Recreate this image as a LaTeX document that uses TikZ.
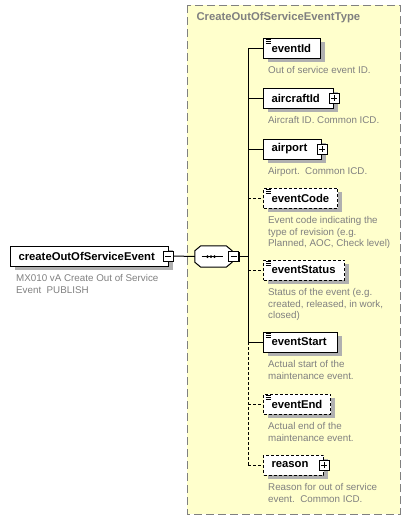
\documentclass[tikz,border=0pt]{standalone}
\usepackage{fontspec}
\setmainfont{Liberation Sans}
\usetikzlibrary{positioning,shadows}

\definecolor{typefill}{RGB}{255,255,204}
\definecolor{typeline}{RGB}{128,128,128}
\definecolor{doctext}{RGB}{128,128,128}
\definecolor{shadowgray}{RGB}{176,176,176}

\tikzset{
	elem/.style={draw, line width=1pt, fill=white, anchor=west, minimum height=20pt,
		inner xsep=8pt, inner ysep=0pt, text width=#1, align=left,
		font=\fontsize{11.3}{13}\selectfont\bfseries,
		drop shadow={shadow xshift=4pt, shadow yshift=-4pt, fill=shadowgray, opacity=1}},
	optelem/.style={elem=#1, dash pattern=on 3pt off 2pt},
	doc/.style={inner sep=0pt, align=left, text=doctext, font=\fontsize{9.8}{11.5}\selectfont},
	link/.style={line width=1pt},
	expander/.style={draw, line width=1pt, fill=white, minimum size=10pt, inner sep=0pt,
		drop shadow={shadow xshift=1pt, shadow yshift=-1pt, fill=black, opacity=1}},
	plusbox/.style={expander, path picture={
		\draw[line width=1pt] ([xshift=2pt]path picture bounding box.west) -- ([xshift=-2pt]path picture bounding box.east)
			([yshift=-2pt]path picture bounding box.north) -- ([yshift=2pt]path picture bounding box.south);}},
	minusbox/.style={expander, path picture={
		\draw[line width=1pt] ([xshift=2pt]path picture bounding box.west) -- ([xshift=-2pt]path picture bounding box.east);}},
	seqbox/.style={minimum width=37pt, minimum height=21pt, inner sep=0pt},
}

% small "documented" mark in the top left corner of a box
\newcommand{\docmark}[1]{
	\foreach \k in {0,1.8,3.6}
		\draw[line width=0.6pt] ([shift={(2.5,1.8+\k)}]#1.north west) -- ++(5,0);
}

% outline of the sequence compositor
\newcommand{\seqoutline}{([xshift=6pt]seq.north west) -- ([xshift=-6pt]seq.north east) -- ([yshift=-5pt]seq.north east)
	-- ([yshift=5pt]seq.south east) -- ([xshift=-6pt]seq.south east) -- ([xshift=6pt]seq.south west)
	-- ([yshift=5pt]seq.south west) -- ([yshift=-5pt]seq.north west) -- cycle}

\begin{document}
\begin{tikzpicture}[x=1pt,y=-1pt]
	\useasboundingbox (0,0) rectangle (411,520);

	% the complex type
	\draw[fill=typefill, draw=typeline, line width=1pt, dash pattern=on 8pt off 4pt] (187,5) rectangle (400,514);
	\node [anchor=west, text=typeline, font=\fontsize{11.3}{13}\selectfont\bfseries] (typeTitle) at (193,18) {CreateOutOfServiceEventType};

	% root element
	\node [elem=142pt] (root) at (10,256) {createOutOfServiceEvent};
	\node [minusbox] (rootMinus) at ([xshift=-1pt]root.east) {};
	\node [doc, below right=8pt and 6pt of root.south west, anchor=north west] (rootDoc) {MX010 vA Create Out of Service\\Event\ \ PUBLISH};

	% sequence
	\node [seqbox] (seq) at (213.5,256.5) {};
	\fill[shadowgray, shift={(4,4)}] \seqoutline;
	\draw[line width=1pt, fill=white] \seqoutline;
	\draw[line width=1pt] ([xshift=-12pt]seq.center) -- ([xshift=9pt]seq.center);
	\foreach \dx in {-6,-2.5,1}
		\fill ([xshift=\dx pt]seq.center) circle (1.5pt);
	\node [minusbox] (seqMinus) at (233.5,256) {};
	\coordinate (trunk) at (248,256);

	% children
	\node [elem=41pt] (eventId) at (263,48) {eventId};
	\node [elem=54pt] (aircraftId) at (263,98) {aircraftId};
	\node [elem=42pt] (airport) at (263,149) {airport};
	\node [optelem=58pt] (eventCode) at (263,198) {eventCode};
	\node [optelem=65pt] (eventStatus) at (263,270) {eventStatus};
	\node [elem=58pt] (eventStart) at (263,342) {eventStart};
	\node [optelem=51pt] (eventEnd) at (263,404) {eventEnd};
	\node [optelem=44pt] (reason) at (263,465) {reason};

	\node [plusbox] (aircraftIdPlus) at (aircraftId.east) {};
	\node [plusbox] (airportPlus) at (airport.east) {};
	\node [plusbox] (reasonPlus) at (reason.east) {};

	\docmark{eventId}
	\docmark{eventCode}
	\docmark{eventStatus}
	\docmark{eventStart}
	\docmark{eventEnd}

	% annotations
	\node [doc, below right=8pt and 5pt of eventId.south west, anchor=north west] (eventIdDoc) {Out of service event ID.};
	\node [doc, below right=8pt and 5pt of aircraftId.south west, anchor=north west] (aircraftIdDoc) {Aircraft ID. Common ICD.};
	\node [doc, below right=8pt and 5pt of airport.south west, anchor=north west] (airportDoc) {Airport.\ \ Common ICD.};
	\node [doc, below right=8pt and 5pt of eventCode.south west, anchor=north west] (eventCodeDoc) {Event code indicating the\\type of revision (e.g.\\Planned, AOC, Check level)};
	\node [doc, below right=8pt and 5pt of eventStatus.south west, anchor=north west] (eventStatusDoc) {Status of the event (e.g.\\created, released, in work,\\closed)};
	\node [doc, below right=8pt and 5pt of eventStart.south west, anchor=north west] (eventStartDoc) {Actual start of the\\maintenance event.};
	\node [doc, below right=8pt and 5pt of eventEnd.south west, anchor=north west] (eventEndDoc) {Actual end of the\\maintenance event.};
	\node [doc, below right=8pt and 5pt of reason.south west, anchor=north west] (reasonDoc) {Reason for out of service\\event.\ \ Common ICD.};

	% connectors
	\draw[link] (rootMinus.east) -- (seq.west);
	\draw[link] (seqMinus.east) -- (trunk);
	\draw[link] (trunk |- eventId.west) -- (trunk |- eventStart.west);
	\draw[link] (trunk |- eventId.west) -- (eventId.west);
	\draw[link] (trunk |- aircraftId.west) -- (aircraftId.west);
	\draw[link] (trunk |- airport.west) -- (airport.west);
	\draw[link] (trunk |- eventStart.west) -- (eventStart.west);
	\begin{scope}[link, dash pattern=on 3pt off 2pt]
		\draw (trunk |- eventStart.west) -- (trunk |- reason.west);
		\draw (trunk |- eventCode.west) -- (eventCode.west);
		\draw (trunk |- eventStatus.west) -- (eventStatus.west);
		\draw (trunk |- eventEnd.west) -- (eventEnd.west);
		\draw (trunk |- reason.west) -- (reason.west);
	\end{scope}
\end{tikzpicture}
\end{document}
